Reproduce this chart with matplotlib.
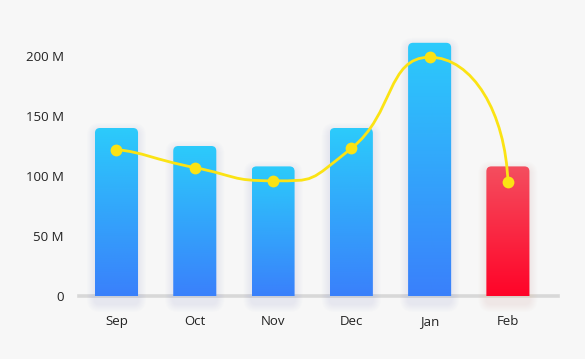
import numpy as np
import matplotlib.pyplot as plt
import matplotlib.colors as mcolors
from matplotlib.patches import FancyBboxPatch, PathPatch
from matplotlib.path import Path

months = ['Sep', 'Oct', 'Nov', 'Dec', 'Jan', 'Feb']
bar_values = [140, 125, 108, 140, 211, 108]    # millions
line_values = [122, 107, 96, 123, 199, 95]     # millions
yticks = [0, 50, 100, 150, 200]
ytick_labels = ['0', '50 M', '100 M', '150 M', '200 M']

bg = '#f7f7f7'
blue_top, blue_bottom = '#2ccbfb', '#3a80fb'
red_top, red_bottom = '#f44e5f', '#ff0428'
line_color = '#fbe314'
text_color = '#222222'

plt.rcParams['font.family'] = ['Open Sans', 'DejaVu Sans']

fig = plt.figure(figsize=(5.85, 3.59), dpi=100, facecolor=bg)
ax = fig.add_axes([79 / 585, 63 / 359, 479 / 585, 264 / 359])
ax.set_facecolor(bg)
for s in ax.spines.values():
    s.set_visible(False)

x = np.arange(len(months))
xlim = (-0.479, 5.64)
ylim = (0, 220)
ax.set_xlim(*xlim)
ax.set_ylim(*ylim)

# pixels per data unit
p0, p1 = ax.transData.transform([(0, 0), (1, 1)])
px_x, px_y = p1 - p0

ax.axhline(0, color='#d8d8d8', lw=2.6, clip_on=False, zorder=1)

bars = ax.bar(x, bar_values, width=0.55, color='none', zorder=2)


def gradient(c_top, c_bot, n=256):
    t = np.linspace(0, 1, n)[:, None]
    a = np.array(mcolors.to_rgb(c_top))
    b = np.array(mcolors.to_rgb(c_bot))
    return (a * (1 - t) + b * t)[:, None, :]


r = 5  # corner radius, px
aspect = px_x / px_y
for i, rect in enumerate(bars):
    x0, w, h = rect.get_x(), rect.get_width(), rect.get_height()
    last = i == len(bars) - 1
    c_top, c_bot = (red_top, red_bottom) if last else (blue_top, blue_bottom)
    shadow = '#e0b090' if last else '#8f9fd8'
    # soft halo
    for k in range(1, 9):
        sh = FancyBboxPatch((x0, -r / px_y - 3 / px_y), w, h + r / px_y,
                            boxstyle=f'round,pad={k / px_x},rounding_size={(r + k) / px_x}',
                            mutation_aspect=aspect, fc=shadow, ec='none',
                            alpha=0.018, zorder=1.5, clip_on=False)
        ax.add_patch(sh)
    patch = FancyBboxPatch((x0, -r / px_y), w, h + r / px_y,
                           boxstyle=f'round,pad=0,rounding_size={r / px_x}',
                           mutation_aspect=aspect, fc='none', ec='none', zorder=3)
    ax.add_patch(patch)
    im = ax.imshow(gradient(c_top, c_bot), extent=[x0, x0 + w, 0, h],
                   origin='upper', aspect='auto', interpolation='bilinear', zorder=3)
    im.set_clip_path(patch)

ax.set_xlim(*xlim)
ax.set_ylim(*ylim)

# smooth line: cubic bezier through the points, control points in pixel space
pts = ax.transData.transform(np.column_stack([x, line_values]))
n = len(pts)
s = 0.55
cp_in = pts.copy()
cp_out = pts.copy()
for i in range(1, n - 1):
    d = pts[i + 1] - pts[i - 1]
    if (pts[i, 1] - pts[i - 1, 1]) * (pts[i + 1, 1] - pts[i, 1]) < 0:
        d[1] = 0  # flat at a peak or trough
    cp_in[i] = pts[i] - d * s * 0.5
    cp_out[i] = pts[i] + d * s * 0.5
# ends: first leaves almost level, last arrives almost vertically
seg0 = pts[1] - pts[0]
cp_out[0] = pts[0] + np.array([seg0[0] * 0.35, seg0[1] * 0.15])
segn = pts[-1] - pts[-2]
cp_in[-1] = pts[-1] - np.array([segn[0] * 0.03, segn[1] * s])

verts = [pts[0]]
codes = [Path.MOVETO]
for i in range(n - 1):
    verts += [cp_out[i], cp_in[i + 1], pts[i + 1]]
    codes += [Path.CURVE4] * 3
verts = ax.transData.inverted().transform(np.array(verts))
ax.add_patch(PathPatch(Path(verts, codes), fc='none', ec=line_color, lw=2, zorder=5,
                       capstyle='round'))
ax.plot(x, line_values, 'o', color=line_color, ms=8.5, mew=0, zorder=6)

ax.set_xticks(x)
ax.set_xticklabels(months)
ax.set_yticks(yticks)
ax.set_yticklabels(ytick_labels)
ax.tick_params(axis='both', length=0, labelsize=9.5, colors=text_color)
ax.tick_params(axis='x', pad=14)
ax.tick_params(axis='y', pad=11)

fig.savefig('out.png', dpi=100, facecolor=bg)
